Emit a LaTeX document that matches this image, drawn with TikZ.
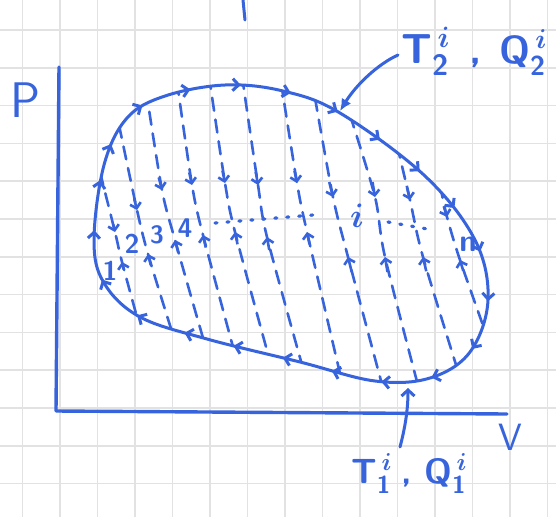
\RequirePackage{fix-cm}
\documentclass[tikz,border=0pt]{standalone}
\usetikzlibrary{arrows.meta,decorations.markings,calc}
\definecolor{ink}{RGB}{55,100,220}
\definecolor{gridc}{RGB}{226,226,226}
\begin{document}
\begin{tikzpicture}[x=1pt,y=-1pt,
  ink line/.style={draw=ink,line width=3pt,line cap=round,line join=round},
  dashline/.style={draw=ink,line width=2.6pt,dash pattern=on 13pt off 9pt,line cap=round},
  dotline/.style={draw=ink,line width=3.2pt,dash pattern=on 2pt off 10pt,line cap=round},
  tipdn/.style={draw=ink,line width=2.6pt,-{Straight Barb[length=5pt,width=11pt]}},
  looparrows/.style={decoration={markings,
     mark=between positions 0.02 and 1 step 0.046 with {\arrow[ink]{Straight Barb[length=6pt,width=12pt]}}},
     postaction=decorate},
  lbl/.style={text=ink,font=\sffamily\bfseries,inner sep=0pt}]
\useasboundingbox (0,0) rectangle (556,517);
\fill[white] (0,0) rectangle (556,517);
% grid paper
\foreach \gx in {0,...,14} \draw[gridc,line width=1.5pt] ({22.5+37.5*\gx},0) -- ({22.5+37.5*\gx},517);
\foreach \gy in {0,...,13} \draw[gridc,line width=1.5pt] (0,{30+37.8*\gy}) -- (556,{30+37.8*\gy});
% stray mark at top
\coordinate (s1) at (243,0); \coordinate (s2) at (245,20);
\draw[ink line] (s1) -- (s2);
% axes
\coordinate (ytop) at (59,67);
\coordinate (orig) at (56,411);
\coordinate (xend) at (507,414);
\draw[ink line,line width=3.4pt] (ytop) -- (orig) -- (xend);
\node[lbl,font=\sffamily\fontsize{50}{50}\selectfont] (P) at (25,100) {P};
\node[lbl,font=\sffamily\fontsize{38}{38}\selectfont] (V) at (510,437) {V};
% dashed strips, clipped to the cycle
\begin{scope}
\clip plot[smooth cycle,tension=0.6] coordinates {(94,240) (104,165) (127,118) (165,96) (225,85) (283,91) (340,113) (425,176) (475,240) (488,300) (470,352) (430,378) (375,381) (300,362) (207,339) (140,317) (104,283)};
\foreach \tx/\ty/\dx/\dy/\ux/\uy/\bx/\by in {
  100/172/115/232/122/262/140/328,
  119/125/137/210/148/254/173/335,
  146/90/162/190/175/240/205/345,
  177/82/192/185/203/235/236/358,
  209/76/225/183/235/232/271/365,
  242/76/258/185/267/237/304/372,
  281/82/297/183/307/232/342/382,
  315/98/333/197/348/257/384/392,
  350/115/375/197/385/257/420/393,
  397/145/410/200/423/257/462/384,
  440/185/447/217/460/260/490/345}{
  \draw[dashline] plot[smooth,tension=0.5] coordinates {(\tx,\ty) (\dx,\dy) (\ux,\uy) (\bx,\by)};
}
\end{scope}
% arrows on the strips
\foreach \dx/\dy/\ux/\uy [count=\k] in {115/232/122/262,137/210/148/254,162/190/175/240,192/185/203/235,225/183/235/232,258/185/267/237,297/183/307/232,333/197/348/257,375/197/385/257,410/200/423/257,447/217/460/260}{
  \coordinate (dd\k) at (\dx,\dy);
  \coordinate (uu\k) at (\ux,\uy);
  \draw[tipdn] ($(dd\k)!-0.25!(uu\k)$) -- (dd\k);
  \draw[tipdn] ($(uu\k)!-0.25!(dd\k)$) -- (uu\k);
}
% the cycle
\draw[ink line,looparrows] plot[smooth cycle,tension=0.6] coordinates {(94,240) (104,165) (127,118) (165,96) (225,85) (283,91) (340,113) (425,176) (475,240) (488,300) (470,352) (430,378) (375,381) (300,362) (207,339) (140,317) (104,283)};
% dotted line through the middle
\coordinate (da) at (215,223); \coordinate (db) at (313,215);
\coordinate (dc) at (388,222); \coordinate (de) at (433,230);
\draw[dotline] (da) -- (db);
\draw[dotline] (dc) -- (de);
% strip labels
\node[lbl,font=\sffamily\bfseries\fontsize{27}{27}\selectfont] (n1) at (110,271) {1};
\node[lbl,font=\sffamily\bfseries\fontsize{27}{27}\selectfont] (n2) at (132,244) {2};
\node[lbl,font=\sffamily\bfseries\fontsize{25}{25}\selectfont] (n3) at (157,235) {3};
\node[lbl,font=\sffamily\bfseries\fontsize{27}{27}\selectfont] (n4) at (185,228) {4};
\node[lbl,font=\boldmath\fontsize{34}{34}\selectfont] (ni) at (357,216) {$i$};
\node[lbl,font=\sffamily\bfseries\fontsize{31}{31}\selectfont] (nn) at (468,244) {n};
% T2, Q2 label and arrow
\node[lbl,anchor=base west,font=\boldmath\fontsize{42}{42}\selectfont] (T2) at (401,63) {$\mathsf{T}_{\mathsf{2}}^{\,i}$};
\node[lbl,anchor=base,font=\sffamily\bfseries\fontsize{40}{40}\selectfont] (T2c) at (476,63) {,};
\node[lbl,anchor=base west,font=\boldmath\fontsize{39}{39}\selectfont] (Q2) at (499,63) {$\mathsf{Q}_{\mathsf{2}}^{\,i}$};
\coordinate (t2a) at (398,55);
\coordinate (t2b) at (340,111);
\draw[ink line,-{Latex[length=12pt,width=11pt]}] (t2a) .. controls (378,64) and (356,85) .. (t2b);
% T1, Q1 label and arrow
\node[lbl,anchor=base west,font=\boldmath\fontsize{35}{35}\selectfont] (T1) at (351,483) {$\mathsf{T}_{\mathsf{1}}^{\,i}$};
\node[lbl,anchor=base,font=\sffamily\bfseries\fontsize{34}{34}\selectfont] (T1c) at (407,483) {,};
\node[lbl,anchor=base west,font=\boldmath\fontsize{35}{35}\selectfont] (Q1) at (424,483) {$\mathsf{Q}_{\mathsf{1}}^{\,i}$};
\coordinate (t1a) at (400,447);
\coordinate (t1b) at (408,388);
\draw[ink line,-{Straight Barb[length=6pt,width=13pt]}] (t1a) .. controls (405,428) and (408,410) .. (t1b);
\end{tikzpicture}
\end{document}
